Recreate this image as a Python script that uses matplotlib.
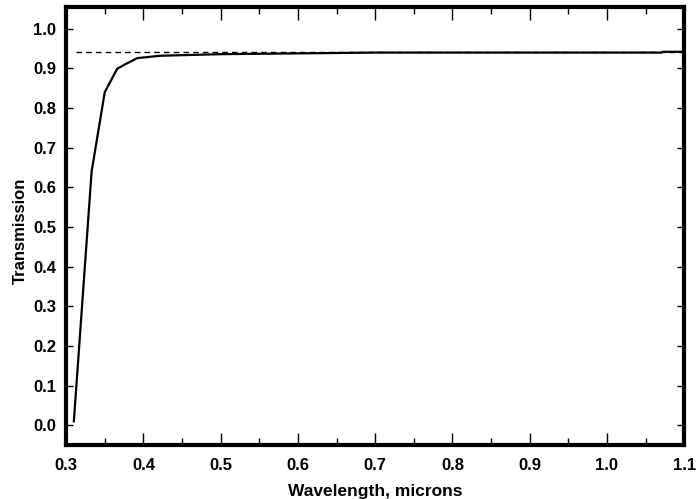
import numpy as np
from matplotlib import pyplot as plt
from matplotlib.ticker import MultipleLocator

# data
wavelength = [0.310, 0.333, 0.350, 0.366, 0.376, 0.392, 0.422, 0.500, 0.600, 0.700, 0.800, 1.000, 1.070, 1.072, 1.100]
transmission = [0.010, 0.640, 0.840, 0.899, 0.910, 0.926, 0.932, 0.936, 0.938, 0.940, 0.940, 0.940, 0.940, 0.942, 0.942]
ideal_x = [0.313, 1.1]
ideal_y = [0.942, 0.942]
tick_vals = np.arange(0.3, 1.11, 0.1)
ytick_vals = np.arange(0.0, 1.01, 0.1)

plt.rcParams['font.family'] = ['Liberation Sans', 'DejaVu Sans']

fig = plt.figure(figsize=(6.96, 4.99), dpi=100)
ax = fig.add_axes([0.095, 0.108, 0.888, 0.878])

ax.plot(ideal_x, ideal_y, 'k--', linewidth=1, dashes=(4, 3))
ax.plot(wavelength, transmission, 'k-', linewidth=1.6)

ax.set_xlim(0.3, 1.1)
ax.set_ylim(-0.05, 1.055)
ax.xaxis.set_minor_locator(MultipleLocator(0.05))
ax.set_xticks(tick_vals)
ax.set_xticklabels([f'{v:.1f}' for v in tick_vals])
ax.set_yticks(ytick_vals)
ax.set_yticklabels([f'{v:.1f}' for v in ytick_vals])

ax.tick_params(which='both', direction='in', top=True, right=True, width=1,
               labelsize=12)
ax.tick_params(axis='x', pad=9)
ax.tick_params(axis='y', pad=7)
ax.tick_params(which='major', length=9)
ax.tick_params(which='minor', length=5)
ax.tick_params(axis='y', which='major', length=5)
for lab in ax.get_xticklabels() + ax.get_yticklabels():
    lab.set_fontweight('bold')

for sp in ax.spines.values():
    sp.set_linewidth(3)

ax.set_xlabel('Wavelength, microns', fontsize=12.5, fontweight='bold', labelpad=8)
ax.set_ylabel('Transmission', fontsize=12, fontweight='bold')
ax.yaxis.set_label_coords(-0.062, 0.49)

fig.savefig('out.png', dpi=100)
